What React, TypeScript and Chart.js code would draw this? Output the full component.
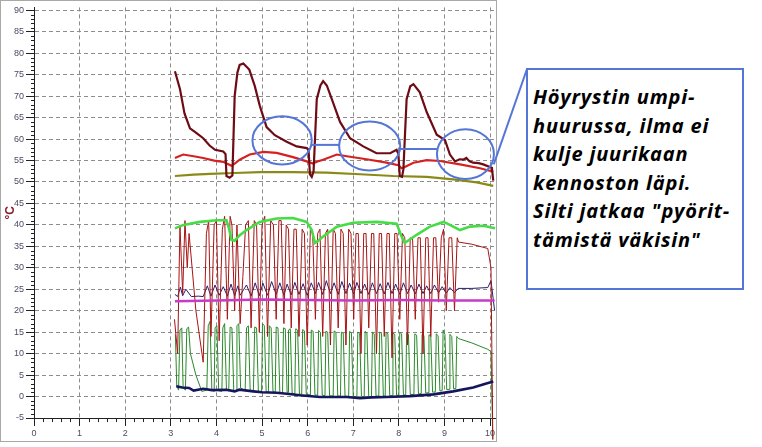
import React, { useEffect, useRef } from "react";
import { Chart, registerables } from "chart.js";

Chart.register(...registerables);

type Pt = [number, number];

// ---- tick labels ----
const xTicks = [0, 1, 2, 3, 4, 5, 6, 7, 8, 9, 10];
const yTicks = [-5, 0, 5, 10, 15, 20, 25, 30, 35, 40, 45, 50, 55, 60, 65, 70, 75, 80, 85, 90];
const yUnit = "°C";

// ---- series (x = time, y = °C) ----
const hotGas: Pt[] = [
  [3.09, 75.8], [3.2, 71.7], [3.3, 66], [3.42, 62.5], [3.55, 61.5], [3.71, 60.2], [3.85, 58.5], [3.97, 57.5],
  [4.15, 57.1], [4.2, 56.5], [4.22, 51.4], [4.29, 51], [4.35, 51.5], [4.4, 70], [4.46, 75.5], [4.51, 77.3],
  [4.59, 77.6], [4.72, 76.2], [4.84, 72.4], [4.95, 67.8], [5.1, 62.8], [5.28, 60.9], [5.54, 59.4], [5.76, 58.3],
  [5.98, 57.9], [6.02, 57.5], [6.05, 51.8], [6.09, 51.2], [6.13, 52.5], [6.2, 69.3], [6.28, 72.5], [6.34, 73.5],
  [6.42, 72.5], [6.53, 69.3], [6.71, 64], [6.93, 60.2], [7.22, 58.3], [7.51, 56.7], [7.81, 56.7], [7.95, 57.5],
  [7.99, 56.5], [8.02, 51.4], [8.07, 51.2], [8.1, 53], [8.17, 69.3], [8.25, 72.3], [8.32, 72.8], [8.46, 70.9],
  [8.61, 66.3], [8.83, 61], [9.01, 59.8], [9.12, 56.4], [9.23, 54.8], [9.33, 55.3], [9.41, 55.2], [9.48, 55.6],
  [9.55, 54.8], [9.63, 54.5], [9.75, 54.4], [9.85, 54.1], [10.04, 53.3], [10.07, 50.3],
];

const condenser: Pt[] = [
  [3.09, 55.6], [3.27, 56.4], [3.5, 56], [3.71, 55.6], [3.95, 55], [4.15, 54.7], [4.25, 54.2], [4.33, 53.8],
  [4.4, 54.3], [4.51, 55.2], [4.73, 56.4], [5.03, 57], [5.32, 56.8], [5.68, 55.8], [5.98, 54.8], [6.12, 54.3],
  [6.2, 54.7], [6.34, 55.2], [6.64, 56.4], [6.86, 56], [7.29, 55.3], [7.73, 54.5], [7.99, 53.9], [8.06, 53.2],
  [8.13, 53.5], [8.32, 54.5], [8.61, 55.1], [8.9, 54.9], [9.34, 54.1], [9.78, 53.2], [10.07, 52.4],
];

const waterOut: Pt[] = [
  [3.09, 51.4], [3.5, 51.7], [3.86, 51.9], [4.4, 52.1], [4.95, 52.3], [5.68, 52.3], [6.42, 52.2], [7.15, 51.8],
  [7.88, 51.4], [8.61, 51.2], [9.19, 50.6], [9.71, 49.9], [10.07, 49.1],
];

const liquidLine: Pt[] = [
  [3.09, 39.2], [3.28, 40], [3.64, 40.7], [4, 41.1], [4.22, 41.1], [4.28, 39], [4.33, 36.5], [4.4, 36.3],
  [4.5, 37.5], [4.66, 38.8], [4.95, 40.7], [5.32, 41.5], [5.68, 41.6], [5.98, 40.7], [6.09, 38.8], [6.16, 35.8],
  [6.22, 36.2], [6.34, 37.3], [6.64, 39.6], [7, 40.5], [7.51, 40.7], [7.95, 40.3], [8.06, 37.3], [8.13, 35.8],
  [8.2, 36.3], [8.39, 37.7], [8.68, 39.6], [8.98, 40.7], [9.12, 40], [9.34, 38.8], [9.56, 39.6], [9.85, 39.8],
  [10.11, 39.2],
];

const suctionOsc: Pt[] = [
  [3.08, 18], [3.15, 10], [3.2, 40], [3.26, 24], [3.31, 41], [3.36, 30], [3.4, 38], [3.55, 20], [3.71, 8],
  [3.78, 38], [3.83, 41], [3.88, 14], [3.95, 40], [4.0, 41], [4.06, 13], [4.13, 39], [4.18, 42], [4.24, 18],
  [4.3, 42], [4.34, 40], [4.4, 20], [4.45, 40], [4.52, 17], [4.58, 28], [4.64, 40], [4.7, 41], [4.76, 16],
  [4.83, 41], [4.88, 40], [4.94, 15], [5.0, 40], [5.06, 42], [5.12, 14], [5.19, 41], [5.25, 40], [5.31, 18],
  [5.37, 41], [5.42, 41], [5.48, 17], [5.53, 40], [5.58, 39], [5.64, 16], [5.7, 39], [5.75, 39], [5.81, 14],
  [5.88, 39], [5.93, 38], [5.99, 12], [6.06, 39], [6.11, 38], [6.17, 18], [6.22, 38], [6.27, 39], [6.33, 14],
  [6.39, 38], [6.44, 39], [6.5, 12], [6.56, 39], [6.61, 38], [6.67, 16], [6.73, 39], [6.78, 38], [6.84, 12],
  [6.9, 39], [6.95, 38], [7.01, 18], [7.06, 38], [7.11, 38], [7.17, 10], [7.23, 38], [7.28, 38], [7.34, 16],
  [7.4, 38], [7.45, 38], [7.51, 10], [7.57, 38], [7.62, 38], [7.68, 14], [7.74, 38], [7.79, 38], [7.85, 9],
  [7.91, 38], [7.96, 38], [8.02, 18], [8.08, 38], [8.13, 37], [8.19, 12], [8.25, 37], [8.3, 37], [8.36, 18],
  [8.42, 37], [8.47, 37], [8.53, 10], [8.59, 37], [8.64, 37], [8.7, 14], [8.76, 37], [8.81, 37], [8.87, 22],
  [8.93, 37], [8.98, 39], [9.04, 20], [9.1, 37], [9.16, 37], [9.22, 20], [9.28, 37], [9.31, 36], [9.6, 35.5],
  [9.95, 34.5], [10.02, 30], [10.06, -10],
];

const indoorOsc: Pt[] = [
  [3.09, 23.8], [3.15, 23.3], [3.21, 25.5], [3.26, 23.5], [3.33, 25], [3.45, 23.3], [3.6, 23.4], [3.71, 23.3],
  [3.8, 25.8], [3.88, 23.4], [3.97, 26], [4.06, 23.6], [4.15, 25.6], [4.24, 23.4], [4.32, 26.2], [4.4, 23.5],
  [4.47, 25.8], [4.52, 23.6], [4.66, 26], [4.76, 23.4], [4.85, 26.5], [4.94, 23.5], [5.02, 26.4], [5.12, 23.6],
  [5.21, 26.8], [5.31, 23.8], [5.39, 26.5], [5.48, 23.6], [5.55, 26.2], [5.64, 23.7], [5.72, 26.6], [5.81, 23.8],
  [5.9, 26.3], [5.99, 23.6], [6.08, 26.5], [6.17, 24], [6.24, 26.6], [6.33, 23.8], [6.41, 27], [6.5, 24],
  [6.58, 26.5], [6.67, 23.8], [6.75, 26.8], [6.84, 24], [6.92, 26.4], [7.01, 23.9], [7.08, 26.6], [7.17, 24],
  [7.25, 26.2], [7.34, 23.8], [7.42, 26.5], [7.51, 24], [7.59, 26.3], [7.68, 23.9], [7.76, 26.6], [7.85, 24],
  [7.93, 26.2], [8.02, 23.8], [8.1, 26.5], [8.19, 24], [8.27, 26], [8.36, 23.9], [8.44, 26.2], [8.53, 24],
  [8.61, 25.8], [8.7, 24], [8.78, 26], [8.87, 24.2], [8.95, 25.6], [9.04, 24.1], [9.12, 25.4], [9.22, 24.2],
  [9.3, 25.2], [9.6, 25.2], [9.95, 25.4], [10.02, 27], [10.1, 20],
];

const indoorAir: Pt[] = [
  [3.09, 22.2], [4, 22.4], [5, 22.6], [6, 22.5], [7, 22.4], [8, 22.5], [9, 22.4], [10.1, 22.4],
];

const evapOsc: Pt[] = [
  [3.1, 14.5], [3.13, 2.5], [3.17, 1.5], [3.2, 15.5], [3.24, 16], [3.27, 2], [3.32, 1.5], [3.35, 15.8],
  [3.39, 16.2], [3.43, 10], [3.55, 5], [3.68, 1.2], [3.79, 1.5], [3.82, 16.5], [3.86, 17.5], [3.9, 1.5],
  [3.95, 1.2], [3.97, 16], [4.01, 16.5], [4.05, 1.3], [4.12, 1.2], [4.14, 16], [4.18, 17], [4.22, 1.5],
  [4.27, 1.3], [4.3, 16.2], [4.34, 16], [4.38, 1.4], [4.43, 1.3], [4.45, 16.5], [4.49, 17], [4.53, 2],
  [4.63, 1.4], [4.66, 16], [4.7, 16.5], [4.74, 1.4], [4.81, 1.2], [4.84, 16.2], [4.88, 16], [4.92, 1.2],
  [4.99, 1], [5.01, 17], [5.05, 16.5], [5.09, 1.2], [5.14, 1], [5.16, 16.5], [5.2, 16], [5.24, 1.1],
  [5.29, 1], [5.31, 16.2], [5.35, 16], [5.39, 1], [5.45, 0.9], [5.47, 16], [5.51, 15.8], [5.55, 1],
  [5.57, 1], [5.58, 15.5], [5.62, 15.8], [5.66, 0.8], [5.72, 0.6], [5.74, 15.8], [5.78, 15.5], [5.82, 0.6],
  [5.87, 0.5], [5.89, 15.6], [5.93, 15.3], [5.97, 0.5], [6.06, 0.4], [6.08, 15.5], [6.12, 15.2], [6.16, 0.4],
  [6.22, 0.3], [6.24, 15.4], [6.28, 15], [6.32, 0.3], [6.38, 0.2], [6.4, 15.2], [6.44, 15], [6.48, 0.2],
  [6.56, 0.1], [6.58, 15.3], [6.62, 15], [6.66, 0.1], [6.72, 0.1], [6.74, 15], [6.78, 14.8], [6.82, 0.1],
  [6.9, 0], [6.92, 15.2], [6.96, 14.8], [7.0, 0], [7.08, 0], [7.1, 15], [7.14, 14.7], [7.18, 0],
  [7.24, 0], [7.26, 15.2], [7.3, 14.8], [7.34, 0], [7.4, 0], [7.42, 15], [7.46, 14.6], [7.5, 0.1],
  [7.56, 0.1], [7.58, 15], [7.62, 14.7], [7.66, 0.1], [7.7, 0.1], [7.72, 15], [7.76, 14.6], [7.8, 0.2],
  [7.85, 0.2], [7.87, 14.8], [7.91, 14.5], [7.95, 0.3], [8.0, 0.3], [8.02, 15], [8.06, 14.6], [8.1, 0.4],
  [8.15, 0.4], [8.17, 14.8], [8.21, 14.5], [8.25, 0.5], [8.33, 0.5], [8.35, 14.6], [8.39, 14.3], [8.43, 0.6],
  [8.49, 0.7], [8.51, 14.5], [8.55, 14.2], [8.59, 0.8], [8.64, 0.9], [8.66, 14.4], [8.7, 14.1], [8.74, 1],
  [8.8, 1.1], [8.82, 14.6], [8.86, 14.2], [8.9, 1.3], [8.95, 1.4], [8.97, 15.5], [9.01, 14.5], [9.05, 1.6],
  [9.1, 1.7], [9.12, 14.5], [9.16, 14], [9.2, 1.8], [9.25, 1.9], [9.27, 14], [9.31, 13.5], [9.6, 12.5],
  [9.95, 11], [10.02, 10.5], [10.06, -10],
];

const outdoorAir: Pt[] = [
  [3.12, 2.4], [3.25, 2.1], [3.4, 2.0], [3.5, 1.4], [3.71, 1.8], [3.9, 1.5], [4.22, 1.6], [4.4, 1.2],
  [4.5, 1.6], [4.81, 1.2], [5.0, 1.0], [5.32, 0.9], [5.6, 0.6], [5.83, 0.3], [6.27, -0.1], [6.86, -0.1],
  [7.15, -0.4], [7.4, -0.2], [7.73, -0.1], [8.24, 0.1], [8.76, 0.5], [9.19, 1.2], [9.63, 2.1], [9.9, 3],
  [10.07, 3.5],
];

// ---- annotation (data coordinates) ----
const noteLines = [
  "Höyrystin umpi-",
  "huurussa, ilma ei",
  "kulje juurikaan",
  "kennoston läpi.",
  "Silti jatkaa \"pyörit-",
  "tämistä väkisin\"",
];
const ringX = [5.44, 7.36, 9.46];
const ringY = [59.7, 58.4, 56.5];
const ringRx = [0.65, 0.67, 0.625];
const ringRy = [5.6, 5.7, 5.8];
const linkY = [58.65, 57.7];
const calloutTarget: Pt = [10.08, 54.1];
const BOX = { left: 526, top: 68, w: 209, h: 205 };
const BLUE = "#5476d6";

const framePlugin = {
  id: "frame",
  beforeDraw(chart: any) {
    const { ctx } = chart;
    ctx.save();
    ctx.fillStyle = "#ffffff";
    ctx.fillRect(0, 0, chart.width, chart.height);
    ctx.restore();
  },
  afterDraw(chart: any) {
    const { ctx, scales, chartArea } = chart;
    const x = scales.x, y = scales.y;
    ctx.save();
    ctx.strokeStyle = "#a8a8a8";
    ctx.lineWidth = 1;
    ctx.strokeRect(0.5, 0.5, 496, 441);
    ctx.strokeStyle = "#222";
    ctx.beginPath();
    for (let v = yTicks[0]; v <= yTicks[yTicks.length - 1]; v += 1) {
      if (v % 5 === 0) continue;
      const py = Math.round(y.getPixelForValue(v)) + 0.5;
      ctx.moveTo(chartArea.left - 3, py);
      ctx.lineTo(chartArea.left, py);
    }
    for (let i = 0; i <= 50; i++) {
      if (i % 5 === 0) continue;
      const px = Math.round(x.getPixelForValue(i / 5)) + 0.5;
      ctx.moveTo(px, chartArea.bottom);
      ctx.lineTo(px, chartArea.bottom + 4);
    }
    ctx.stroke();
    ctx.strokeStyle = BLUE;
    ctx.lineWidth = 2;
    const sx = x.getPixelForValue(1) - x.getPixelForValue(0);
    const sy = y.getPixelForValue(0) - y.getPixelForValue(1);
    for (let i = 0; i < ringX.length; i++) {
      ctx.beginPath();
      ctx.ellipse(x.getPixelForValue(ringX[i]), y.getPixelForValue(ringY[i]), ringRx[i] * sx, ringRy[i] * sy, 0, 0, Math.PI * 2);
      ctx.stroke();
    }
    for (let i = 0; i < linkY.length; i++) {
      ctx.beginPath();
      ctx.moveTo(x.getPixelForValue(ringX[i] + ringRx[i]), y.getPixelForValue(linkY[i]));
      ctx.lineTo(x.getPixelForValue(ringX[i + 1] - ringRx[i + 1]), y.getPixelForValue(linkY[i]));
      ctx.stroke();
    }
    ctx.beginPath();
    ctx.moveTo(BOX.left + 1, BOX.top + 1);
    ctx.lineTo(x.getPixelForValue(calloutTarget[0]), y.getPixelForValue(calloutTarget[1]));
    ctx.stroke();
    ctx.restore();
  },
};

function ds(data: Pt[], color: string, width: number, order: number, clip: any = undefined) {
  const d: any = {
    data,
    borderColor: color,
    backgroundColor: color,
    borderWidth: width,
    pointRadius: 0,
    tension: 0,
    fill: false,
    order,
  };
  if (clip !== undefined) d.clip = clip;
  return d;
}

export default function App() {
  const ref = useRef<HTMLCanvasElement>(null);
  useEffect(() => {
    if (!ref.current) return;
    const tickFont = { family: "'Liberation Sans', Arial, sans-serif", size: 9 };
    const chart = new Chart(ref.current, {
      type: "line",
      data: {
        datasets: [
          ds(hotGas, "#6e0c16", 2.2, 0),
          ds(condenser, "#d42222", 2.2, 0),
          ds(waterOut, "#8a8a18", 2.2, 0),
          ds(liquidLine, "#46dc46", 2.6, 0),
          ds(indoorAir, "#c83ac8", 2.6, 0),
          ds(outdoorAir, "#16165e", 2.6, 0),
          ds(suctionOsc, "#a81414", 1, 1, false),
          ds(indoorOsc, "#2c1c70", 1, 1),
          ds(evapOsc, "#2a8a2a", 1, 1, false),
        ],
      },
      plugins: [framePlugin],
      options: {
        responsive: false,
        animation: false,
        events: [],
        layout: { padding: { left: 0, top: 0, right: 266, bottom: 0 } },
        plugins: { legend: { display: false }, tooltip: { enabled: false } },
        scales: {
          x: {
            type: "linear",
            min: 0,
            max: 10.13,
            afterFit: (s: any) => { s.height = 29; },
            afterBuildTicks: (s: any) => { s.ticks = xTicks.map((v) => ({ value: v })); },
            ticks: { color: "#4a4a66", font: tickFont, padding: 2, maxRotation: 0, autoSkip: false },
            grid: { color: "#8c8c8c", lineWidth: 1, drawTicks: true, tickLength: 8, tickColor: "#222" },
            border: { display: true, color: "#222", width: 1, dash: [4, 3] },
          },
          y: {
            type: "linear",
            min: -5,
            max: 90.69,
            afterFit: (s: any) => { s.width = 34; },
            afterBuildTicks: (s: any) => { s.ticks = yTicks.map((v) => ({ value: v })); },
            ticks: { color: "#4a4a66", font: tickFont, padding: 2, autoSkip: false },
            grid: { color: "#8c8c8c", lineWidth: 1, drawTicks: true, tickLength: 8, tickColor: "#222" },
            border: { display: true, color: "#222", width: 1, dash: [4, 3] },
            title: {
              display: true,
              text: yUnit,
              color: "#8a1c2a",
              font: { family: "'Liberation Sans', Arial, sans-serif", size: 12, weight: "bold" },
              padding: { top: 3, bottom: 0 },
            },
          },
        },
      },
    } as any);
    return () => chart.destroy();
  }, []);

  return (
    <div style={{ position: "fixed", left: 0, top: 0, width: 762, height: 447, background: "#fff", overflow: "hidden" }}>
      <canvas ref={ref} width={762} height={447} style={{ position: "absolute", left: 0, top: 0, width: 762, height: 447 }} />
      <div
        style={{
          position: "absolute",
          left: BOX.left,
          top: BOX.top,
          width: BOX.w,
          height: BOX.h,
          border: `2px solid ${BLUE}`,
          background: "#fff",
          paddingTop: 13,
          paddingLeft: 5,
          boxSizing: "content-box",
          fontFamily: "'Open Sans', Lato, sans-serif",
          fontStyle: "italic",
          fontWeight: 700,
          fontSize: 20,
          letterSpacing: "0.8px",
          lineHeight: "28.6px",
          color: "#000",
          whiteSpace: "nowrap",
          overflow: "hidden",
        }}
      >
        {noteLines.map((l, i) => (
          <div key={i}>{l}</div>
        ))}
      </div>
    </div>
  );
}
